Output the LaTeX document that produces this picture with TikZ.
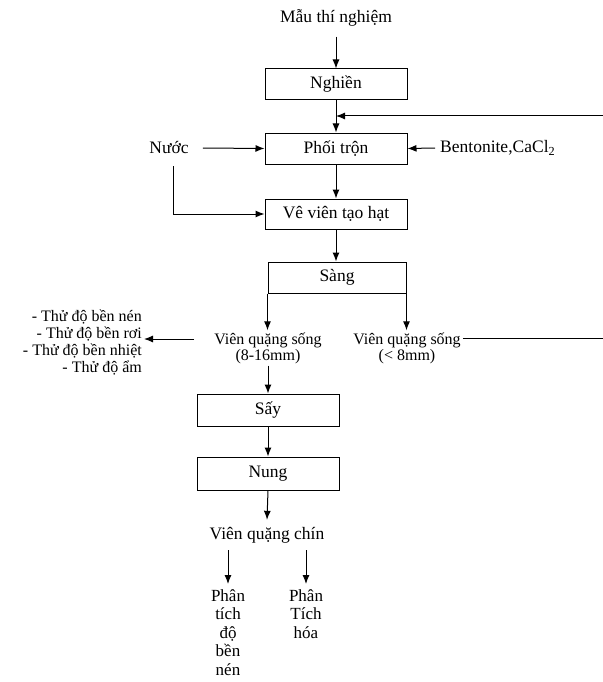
\documentclass[tikz,border=0pt]{standalone}
\usepackage{fontspec}
\setmainfont{Liberation Serif}
\usetikzlibrary{arrows.meta}
\begin{document}
\begin{tikzpicture}[x=1pt,y=-1pt,
  box/.style={draw,line width=1pt,minimum height=31pt,inner sep=0pt,font=\fontsize{17.5}{20}\selectfont},
  lbl/.style={inner sep=2pt,font=\fontsize{17.5}{20}\selectfont},
  sml/.style={inner sep=2pt,align=center,font=\fontsize{16}{16}\selectfont},
  lst/.style={inner sep=2pt,align=right,font=\fontsize{16}{17}\selectfont},
  col/.style={inner sep=1pt,align=center,font=\fontsize{17}{18.5}\selectfont},
  arr/.style={line width=1pt,-{Latex[length=9pt,width=7pt]}},
  ln/.style={line width=1pt}]
\useasboundingbox (0,0) rectangle (602,682);
% nodes
\node[lbl] (mau) at (336,18) {Mẫu thí nghiệm};
\node[box,minimum width=142pt] (nghien) at (336,84.5) {Nghiền};
\node[box,minimum width=142pt] (phoi) at (336,148.5) {Phối trộn};
\node[box,minimum width=142pt,minimum height=30pt] (ve) at (336,214) {Vê viên tạo hạt};
\node[box,minimum width=138pt] (sang) at (337,277.5) {Sàng};
\node[lbl] (nuoc) at (169,148) {Nước};
\node[lbl,anchor=west] (bent) at (438,148) {Bentonite,CaCl\textsubscript{2}};
\node[sml] (v1) at (268,348) {Viên quặng sống\\(8-16mm)};
\node[sml] (v2) at (407,348) {Viên quặng sống\\(< 8mm)};
\node[lst,anchor=east] (list) at (144,343) {- Thử độ bền nén\\- Thử độ bền rơi\\- Thử độ bền nhiệt\\- Thử độ ẩm};
\node[box,minimum width=142pt,minimum height=32pt] (say) at (268,410) {Sấy};
\node[box,minimum width=142pt,minimum height=33pt] (nung) at (268,473.5) {Nung};
\node[lbl] (chin) at (267,535) {Viên quặng chín};
\node[col,anchor=north] (pt1) at (228,588) {Phân\\tích\\độ\\bền\\nén};
\node[col,anchor=north] (pt2) at (306,588) {Phân\\Tích\\hóa};
\coordinate (j) at (336,116);
% connectors
\draw[arr] ([yshift=-8pt]mau.south) -- (nghien.north);
\draw[arr] (nghien.south) -- (phoi.north);
\draw[arr] ([xshift=12pt]nuoc.east) -- (phoi.west);
\draw[arr] ([xshift=-3pt]bent.west) -- (phoi.east);
\draw[arr] ([xshift=4pt,yshift=-10pt]nuoc.south) |- (ve.west);
\draw[arr] (phoi.south) -- (ve.north);
\draw[arr] (ve.south) -- (ve.south |- sang.north);
\draw[arr] (sang.south west) -- (sang.south west |- v1.north);
\draw[arr] (sang.south east) -- (sang.south east |- v2.north);
\draw[arr] ([yshift=10pt]v2.east) -| (608,200) |- (j);
\draw[arr] ([xshift=-18pt,yshift=9pt]v1.west) -- ([yshift=4pt]list.east);
\draw[arr] (v1.south) -- (say.north);
\draw[arr] (say.south) -- (nung.north);
\draw[arr] (nung.south) -- ([yshift=5pt]chin.north);
\draw[arr] ([yshift=-5pt]chin.south -| pt1.north) -- ([yshift=4pt]pt1.north);
\draw[arr] ([yshift=-5pt]chin.south -| pt2.north) -- ([yshift=4pt]pt2.north);
\end{tikzpicture}
\end{document}
